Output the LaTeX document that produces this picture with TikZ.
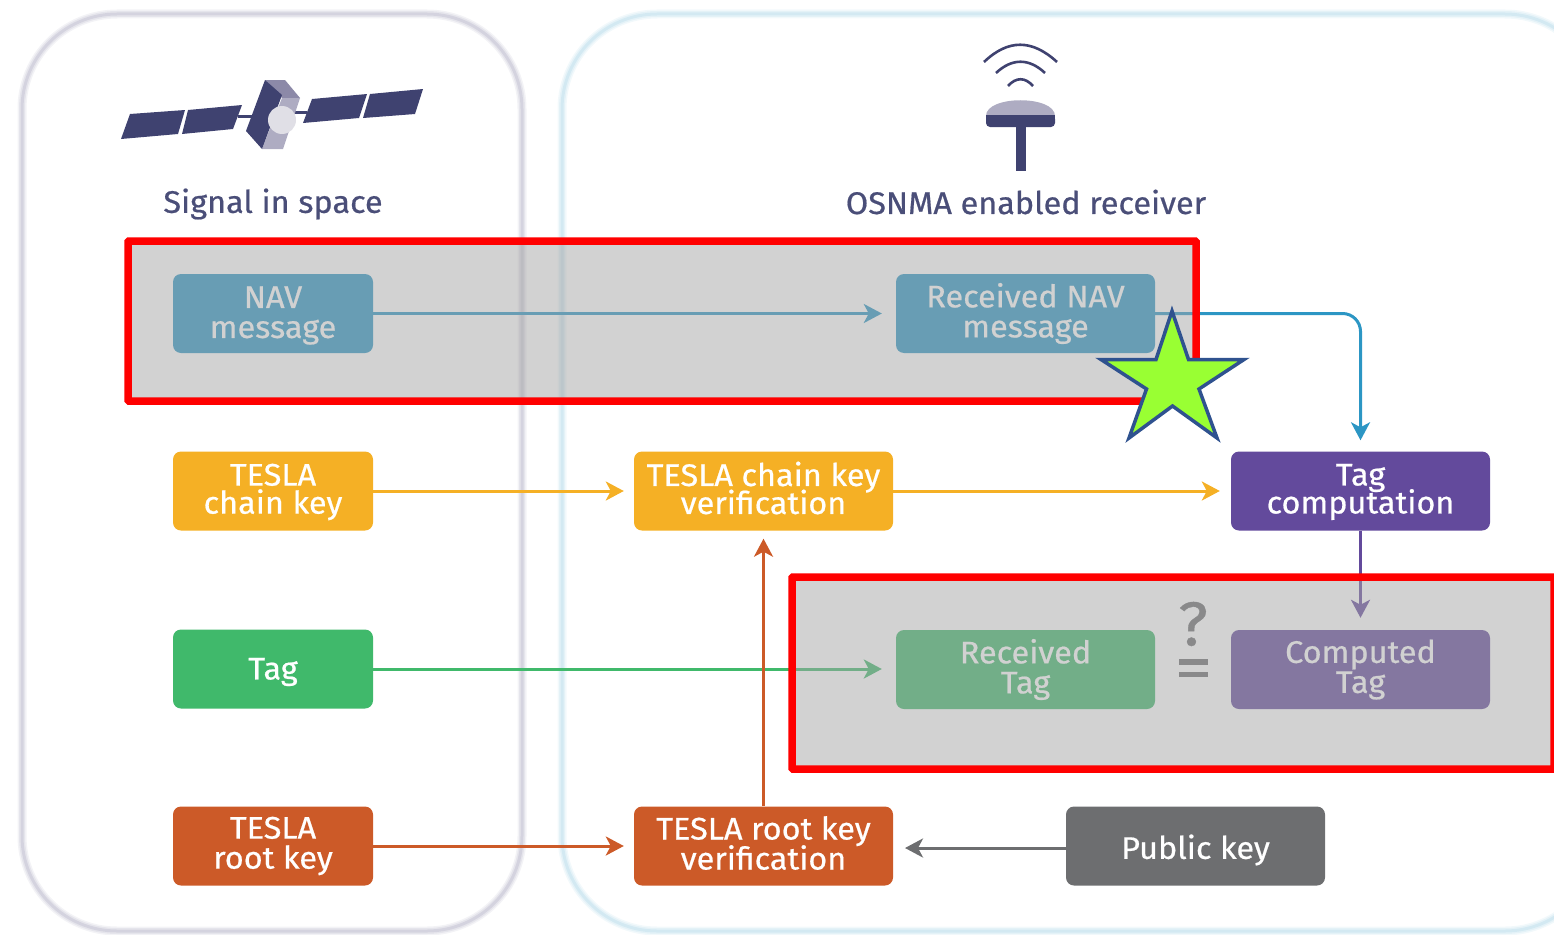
\documentclass[tikz,border=0pt]{standalone}
\usepackage{fontspec}
\setmainfont[FakeBold=0.6,FakeStretch=1.04]{Fira Sans}
\usetikzlibrary{arrows.meta}
\newcommand\movedown[2]{\raisebox{-#1}[\height][\depth]{#2}}
\definecolor{ink}{HTML}{4A4E78}
\definecolor{navy}{HTML}{3F4270}
\definecolor{topface}{HTML}{8C89A8}
\definecolor{lowface}{HTML}{AEACC2}
\definecolor{lens}{HTML}{E0DFE6}
\definecolor{cblue}{HTML}{2C96C4}
\definecolor{cyellow}{HTML}{F5B025}
\definecolor{cpurple}{HTML}{634A9C}
\definecolor{cgreen}{HTML}{40B96B}
\definecolor{corange}{HTML}{CC5A28}
\definecolor{cgray}{HTML}{6D6E70}
\definecolor{veil}{RGB}{165,165,165}
\definecolor{starfill}{HTML}{99FF33}
\definecolor{starline}{HTML}{2F528F}
\tikzset{
  x=1pt,y=-1pt,
  lbl/.style={font=\fontsize{31.2}{31.2}\selectfont,text=ink,inner sep=0pt},
  bx/.style={rounded corners=8pt,inner sep=0pt,align=center,text=white,
    font=\fontsize{31.2}{30}\selectfont,minimum height=79pt,
    execute at begin node={\lineskiplimit=-30pt\relax}},
  tight/.style={font=\fontsize{31.2}{28}\selectfont},
  narrow/.style={bx,minimum width=200pt},
  wide/.style={bx,minimum width=259pt},
  flow/.style={line width=3pt,-{Stealth[length=18pt,width=19pt,inset=5pt]},shorten >=#1},
  flow/.default=11pt,
  veilbox/.style={fill=veil,fill opacity=.5},
  redbox/.style={draw=red,line width=7.5pt,rounded corners=1pt},
  sat/.style={fill=navy},
}
\begin{document}
\begin{tikzpicture}
\useasboundingbox (0,0) rectangle (1554,934);
% panels
\foreach \w/\o in {9/.15,6/.2,3/.3}{
  \draw[draw=lowface,line width=\w pt,opacity=\o,rounded corners=95pt] (22,14) rectangle (522,931);
  \draw[draw=cblue!40,line width=\w pt,opacity=\o,rounded corners=95pt] (562,14) rectangle (1600,931);
}
% satellite
\fill[sat] (121,139)--(130,114)--(185,110)--(178,134)--cycle;
\fill[sat] (182,134)--(188,110)--(242,105)--(233,129)--cycle;
\fill[sat] (303,123)--(312,99)--(367,94)--(359,118)--cycle;
\fill[sat] (363,118)--(370,94)--(423,89)--(415,114)--cycle;
\fill[sat] (238,114.5) rectangle (252,117.5);
\fill[sat] (295,110.5) rectangle (307,113.5);
\fill[topface] (265,80)--(285,80)--(300,98)--(282,98)--cycle;
\fill[lowface] (282,98)--(300,98)--(283,149)--(262,149)--cycle;
\fill[sat] (265,80)--(282,95)--(262,149)--(246,131)--cycle;
\fill[lens] (282,120) circle (14);
% antenna
\draw[navy,line width=2.6pt] (984,62) .. controls (1008,39) and (1032,39) .. (1057,62);
\draw[navy,line width=2.6pt] (996,73) .. controls (1012,58) and (1029,58) .. (1045,73);
\draw[navy,line width=2.6pt] (1008,86) .. controls (1016,77) and (1025,77) .. (1033,86);
\fill[lowface] (986,116) .. controls (986,95) and (1055,95) .. (1055,116) -- cycle;
\fill[navy,rounded corners=4pt] (986,115) rectangle (1055,127);
\fill[navy] (986,115) rectangle (1055,120);
\fill[navy] (1016,120) rectangle (1026,171);
% labels
\node[lbl] (sis) at (273,204) {Signal in space};
\node[lbl] (rcv) at (1026,202) {OSNMA enabled receiver};
% boxes
\node[narrow,fill=cblue] (nav) at (273,313.5) {\movedown{2pt}{NAV}\\\movedown{2pt}{message}};
\node[wide,fill=cblue] (rnav) at (1025.5,313.5) {Received NAV\\message};
\node[narrow,tight,fill=cyellow] (tck) at (273,491) {\movedown{1pt}{TESLA}\\\movedown{1pt}{chain key}};
\node[wide,tight,fill=cyellow] (tckv) at (763.5,491) {\movedown{-3pt}{TESLA chain key}\\\movedown{-3pt}{verification}};
\node[wide,tight,fill=cpurple] (tcomp) at (1360.5,491) {\movedown{1pt}{Tag}\\\movedown{1pt}{computation}};
\node[narrow,fill=cgreen] (tag) at (273,669) {\movedown{3pt}{Tag}};
\node[wide,fill=cgreen] (rtag) at (1025.5,669.5) {Received\\Tag};
\node[wide,fill=cpurple] (ctag) at (1360.5,669.5) {Computed\\Tag};
\node[narrow,fill=corange] (trk) at (273,846) {TESLA\\root key};
\node[wide,fill=corange] (trkv) at (763.5,846) {\movedown{-3pt}{TESLA root key}\\\movedown{-3pt}{verification}};
\node[wide,fill=cgray] (pub) at (1195.5,846) {\movedown{4pt}{Public key}};
\coordinate (pubout) at (1066,848);
\coordinate (trkin) at (893,848);
% comparison sign
\node[inner sep=0pt,text=cgray,font=\fontsize{62}{62}\selectfont] (qm) at (1193,624) {?};
\fill[cgray] (1179,659) rectangle (1208,664.5);
\fill[cgray] (1179,671.5) rectangle (1208,677);
% connectors
\draw[flow=14pt,cblue] (nav) -- (rnav);
\draw[flow,cblue,rounded corners=18pt] (rnav.east) -| (tcomp.north);
\draw[flow=10pt,cyellow] (tck) -- (tckv);
\draw[flow,cyellow] (tckv) -- (tcomp);
\draw[flow=12pt,cpurple] (tcomp) -- (ctag);
\draw[flow=14pt,cgreen] (tag.east) -- (rtag.west |- tag.east);
\draw[flow=10pt,corange] (trk) -- (trkv);
\draw[flow=8pt,corange] (trkv) -- (tckv);
\draw[flow=12pt,cgray] (pubout) -- (trkin);
% highlight frames
\fill[veilbox] (128,241) rectangle (1196,401);
\draw[redbox] (128,241) rectangle (1196,401);
\fill[veilbox] (792,577) rectangle (1554,769);
\draw[redbox] (792,577) rectangle (1554,769);
% star
\draw[fill=starfill,draw=starline,line width=3.5pt,miter limit=10]
  (1172,311)--(1188.5,359.5)--(1244,359.5)--(1199,389)--(1217,438)--(1172.5,406)--(1129,438)--(1146.5,389)--(1101,359.5)--(1156,359.5)--cycle;
\end{tikzpicture}
\end{document}
